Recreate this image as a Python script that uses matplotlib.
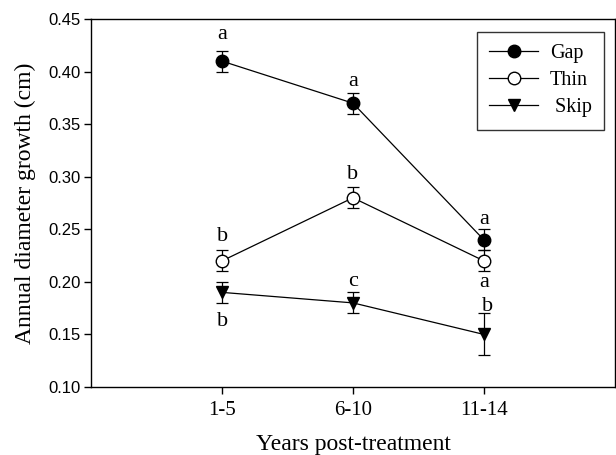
import matplotlib
matplotlib.use("Agg")
import matplotlib.pyplot as plt

periods = ["1-5", "6-10", "11-14"]

gap_mean = [0.41, 0.37, 0.24]
gap_se = [0.01, 0.01, 0.01]
thin_mean = [0.22, 0.28, 0.22]
thin_se = [0.01, 0.01, 0.01]
skip_mean = [0.19, 0.18, 0.15]
skip_se = [0.01, 0.01, 0.02]

# significance letters: (x index, y, letter)
gap_letters = [(0, 0.435, "a"), (1, 0.391, "a"), (2, 0.259, "a")]
thin_letters = [(0, 0.243, "b"), (1, 0.302, "b"), (2, 0.1995, "a")]
skip_letters = [(0, 0.162, "b"), (1, 0.2005, "c"), (2.025, 0.177, "b")]

serif = "Liberation Serif"
sans = "Liberation Sans"

fig = plt.figure(figsize=(6.16, 4.55), dpi=100)
ax = fig.add_axes([0.148, 0.1495, 0.850, 0.8085])

x = list(range(len(periods)))
series = [
    (gap_mean, gap_se, "o", "black", "Gap"),
    (thin_mean, thin_se, "o", "white", "Thin"),
    (skip_mean, skip_se, "v", "black", " Skip"),
]
for mean, se, mk, fc, name in series:
    ax.errorbar(x, mean, yerr=se, fmt="none", ecolor="black", elinewidth=0.9,
                capsize=4.3, capthick=0.9, zorder=2)
    ax.plot(x, mean, color="black", lw=0.9, marker=mk, ms=9, mfc=fc,
            mec="black", mew=1.0, label=name, zorder=3)

for xi, yi, s in gap_letters + thin_letters + skip_letters:
    ax.text(xi, yi, s, ha="center", va="center", fontsize=16, family=serif)

ax.set_xlim(-1, 3)
ax.set_ylim(0.10, 0.45)
ax.set_xticks(x)
ax.set_xticklabels(periods, fontsize=15, family=serif)
ax.set_yticks([0.10, 0.15, 0.20, 0.25, 0.30, 0.35, 0.40, 0.45])
ax.set_yticklabels(["%.2f" % v for v in ax.get_yticks()], fontsize=12, family=sans)
ax.tick_params(axis="both", direction="out", length=5, width=1, top=False, right=False)
ax.tick_params(axis="x", pad=5)
ax.tick_params(axis="y", pad=2.5)

for sp in ax.spines.values():
    sp.set_linewidth(1.0)

ax.set_xlabel("Years post-treatment", fontsize=17, family=serif, labelpad=10)
ax.set_ylabel("Annual diameter growth (cm)", fontsize=17, family=serif, labelpad=9)

leg = ax.legend(loc="upper right", bbox_to_anchor=(0.979, 0.965), frameon=True,
                fancybox=False, edgecolor="black", prop={"family": serif, "size": 14.5},
                handlelength=2.4, handletextpad=0.6, borderpad=0.6,
                labelspacing=0.4, borderaxespad=0)
leg.get_frame().set_linewidth(1.0)

fig.savefig("out.png", dpi=100)
